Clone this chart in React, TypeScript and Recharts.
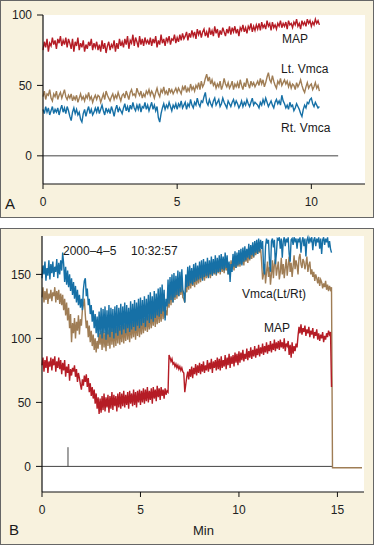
import React from 'react';
import { LineChart, Line, XAxis, YAxis, CartesianGrid, ReferenceLine } from 'recharts';

// Panel A – sampled every 0.05 min, 0 to 10.3 min (one row = one minute)
const A_STEP = 0.05;
const MAP_A = [
  75, 81, 77, 83, 74, 80, 78, 84, 79, 82, 76, 83, 80, 85, 78, 82, 79, 84, 77, 83,
  80, 76, 83, 74, 81, 78, 84, 75, 80, 77, 82, 74, 79, 76, 81, 78, 83, 75, 80, 77,
  81, 75, 79, 74, 82, 76, 80, 73, 78, 81, 75, 79, 77, 82, 74, 80, 76, 83, 78, 81,
  77, 83, 79, 85, 76, 82, 80, 86, 78, 84, 81, 77, 85, 79, 83, 78, 84, 80, 82, 79,
  84, 78, 83, 80, 85, 77, 82, 79, 86, 80, 83, 78, 84, 81, 85, 79, 83, 82, 86, 80,
  84, 81, 86, 82, 87, 83, 85, 88, 82, 87, 84, 89, 85, 88, 83, 90, 86, 89, 84, 88,
  90, 85, 88, 84, 91, 86, 89, 85, 92, 87, 90, 84, 89, 86, 91, 88, 85, 90, 87, 92,
  86, 91, 88, 92, 87, 90, 85, 91, 89, 93, 88, 91, 87, 92, 90, 94, 88, 92, 89, 93,
  90, 94, 89, 95, 91, 93, 90, 96, 92, 94, 89, 95, 91, 93, 90, 94, 92, 96, 91, 94,
  92, 95, 90, 96, 93, 94, 91, 95, 93, 97, 92, 94, 90, 96, 93, 95, 92, 97, 94, 96,
  92, 95, 93, 97, 94, 96, 93,
];
const LT_A = [
  42, 46, 40, 44, 43, 47, 41, 39, 44, 42, 46, 40, 43, 45, 41, 44, 47, 42, 40, 43,
  41, 44, 39, 42, 40, 43, 38, 41, 44, 40, 42, 39, 43, 41, 45, 40, 42, 38, 41, 43,
  40, 43, 42, 38, 41, 44, 40, 46, 43, 41, 39, 42, 44, 40, 43, 41, 45, 42, 39, 43,
  44, 41, 46, 43, 40, 45, 47, 43, 44, 42, 48, 45, 43, 46, 41, 44, 42, 46, 44, 47,
  43, 46, 44, 41, 45, 48, 44, 42, 47, 45, 49, 44, 46, 43, 48, 45, 47, 44, 46, 48,
  45, 48, 46, 44, 49, 47, 50, 45, 48, 46, 51, 47, 49, 46, 50, 48, 52, 47, 53, 49,
  51, 55, 58, 53, 56, 51, 54, 50, 52, 48, 51, 49, 53, 47, 50, 55, 51, 49, 52, 48,
  50, 53, 47, 51, 49, 52, 48, 54, 50, 47, 52, 49, 55, 51, 48, 53, 50, 52, 49, 51,
  53, 50, 55, 51, 54, 49, 52, 56, 59, 54, 52, 57, 53, 50, 48, 53, 51, 55, 50, 52,
  54, 51, 53, 49, 52, 48, 51, 50, 47, 52, 49, 51, 54, 50, 47, 45, 49, 52, 48, 50,
  51, 47, 49, 52, 48, 50, 46,
];
const RT_A = [
  33, 30, 35, 31, 34, 29, 32, 35, 30, 33, 31, 34, 29, 33, 36, 31, 34, 30, 35, 32,
  28, 25, 31, 34, 30, 33, 29, 31, 26, 24, 30, 33, 28, 32, 35, 30, 33, 29, 31, 34,
  31, 35, 30, 33, 36, 32, 29, 34, 31, 33, 30, 35, 32, 28, 33, 36, 31, 34, 32, 30,
  34, 37, 32, 35, 31, 36, 33, 38, 34, 32, 36, 33, 37, 31, 35, 34, 38, 33, 36, 32,
  35, 38, 33, 36, 32, 35, 27, 24, 30, 34, 37, 33, 36, 34, 38, 35, 32, 36, 34, 37,
  33, 37, 35, 39, 34, 36, 38, 33, 37, 35, 40, 36, 34, 38, 36, 41, 37, 35, 39, 38,
  42, 45, 38, 36, 40, 37, 35, 39, 41, 36, 38, 40, 35, 37, 41, 38, 36, 34, 39, 37,
  35, 38, 40, 36, 39, 37, 34, 36, 39, 35, 38, 36, 40, 37, 35, 38, 41, 36, 38, 37,
  36, 34, 38, 36, 40, 37, 41, 38, 35, 37, 39, 36, 34, 38, 40, 37, 39, 36, 43, 39,
  37, 34, 36, 33, 38, 35, 36, 32, 34, 37, 35, 33, 30, 28, 33, 36, 34, 38, 37, 40,
  41, 37, 35, 38, 36, 34, 35,
];

// Panel B – sampled every 0.05 min, 0 to 14.7 min (one row = one minute)
const B_STEP = 0.05;
const RT_B = [
  147, 157, 150, 160, 145, 155, 149, 161, 146, 158, 151, 160, 148, 156, 152, 162, 147, 159, 150, 161,
  153, 167, 158, 144, 156, 142, 153, 140, 150, 137, 147, 134, 144, 131, 141, 128, 138, 126, 134, 124,
  131, 122, 138, 145, 147, 133, 139, 126, 131, 119, 126, 113, 122, 108, 119, 104, 117, 101, 121, 103,
  124, 100, 123, 104, 125, 99, 122, 103, 126, 101, 124, 105, 123, 100, 125, 104, 126, 102, 124, 106,
  127, 103, 125, 107, 128, 104, 126, 108, 124, 105, 129, 107, 127, 109, 130, 106, 128, 110, 131, 108,
  132, 110, 130, 112, 133, 109, 131, 114, 134, 112, 136, 115, 133, 113, 137, 116, 135, 118, 139, 117,
  140, 119, 142, 121, 138, 114, 131, 125, 146, 127, 148, 130, 150, 128, 151, 132, 149, 134, 153, 133,
  152, 136, 154, 138, 135, 128, 150, 140, 156, 141, 157, 143, 155, 142, 158, 144, 159, 145, 157, 146,
  160, 147, 161, 145, 162, 148, 160, 149, 163, 147, 161, 150, 164, 149, 162, 151, 165, 150, 163, 152,
  165, 152, 166, 154, 164, 153, 167, 155, 165, 150, 160, 144, 158, 152, 166, 156, 168, 155, 167, 157,
  169, 158, 170, 157, 171, 160, 172, 161, 170, 163, 174, 162, 173, 165, 175, 164, 176, 167, 177, 166,
  178, 168, 177, 170, 176, 155, 150, 172, 178, 174, 177, 160, 152, 176, 178, 171, 177, 158, 166, 178,
  177, 179, 170, 178, 163, 176, 179, 172, 178, 175, 179, 166, 160, 177, 178, 173, 179, 176, 178, 170,
  178, 175, 179, 167, 176, 179, 172, 178, 164, 177, 179, 174, 178, 176, 179, 169, 177, 179, 172, 178,
  175, 179, 170, 178, 166, 177, 179, 173, 178, 175, 179, 171, 176, 170, 167,
];
const LT_B = [
  132, 140, 128, 137, 130, 139, 127, 135, 131, 138, 129, 136, 133, 140, 128, 137, 130, 138, 127, 135,
  126, 134, 122, 131, 118, 128, 114, 124, 108, 119, 97, 112, 104, 116, 100, 113, 106, 118, 103, 115,
  110, 122, 126, 131, 118, 108, 114, 101, 110, 97, 106, 94, 103, 91, 100, 89, 98, 92, 104, 95,
  106, 91, 108, 93, 105, 90, 109, 94, 107, 92, 110, 95, 108, 93, 111, 94, 109, 96, 112, 95,
  110, 97, 113, 96, 111, 98, 114, 99, 112, 97, 115, 100, 113, 101, 116, 99, 114, 102, 117, 101,
  115, 103, 118, 104, 116, 106, 120, 105, 118, 107, 122, 108, 120, 110, 124, 109, 122, 111, 126, 112,
  124, 113, 128, 115, 126, 116, 122, 118, 136, 124, 140, 126, 142, 128, 141, 130, 144, 131, 143, 133,
  146, 134, 145, 132, 131, 128, 141, 136, 148, 138, 150, 139, 149, 141, 151, 140, 152, 142, 151, 143,
  154, 144, 153, 146, 155, 145, 156, 147, 154, 148, 157, 147, 158, 149, 156, 150, 159, 149, 158, 151,
  160, 150, 161, 152, 159, 151, 162, 153, 160, 150, 158, 152, 161, 154, 163, 153, 164, 155, 162, 156,
  165, 156, 164, 158, 166, 157, 167, 160, 166, 159, 168, 161, 169, 162, 170, 163, 171, 165, 170, 166,
  172, 167, 170, 160, 146, 150, 158, 143, 152, 160, 148, 156, 142, 150, 161, 147, 158, 162, 149, 155,
  160, 146, 152, 163, 150, 158, 147, 155, 162, 149, 157, 164, 152, 159, 148, 156, 165, 154, 161, 157,
  150, 163, 166, 158, 155, 162, 160, 154, 158, 164, 152, 157, 160, 150, 154, 148, 152, 145, 150, 147,
  143, 148, 141, 146, 144, 139, 143, 140, 145, 138, 142, 137, 141, 138, 140,
];
const MAP_B = [
  79, 85, 74, 83, 77, 86, 73, 82, 78, 85, 75, 84, 79, 86, 74, 82, 77, 85, 76, 83,
  72, 81, 75, 83, 70, 78, 73, 80, 67, 76, 71, 77, 74, 79, 70, 76, 66, 73, 69, 64,
  60, 68, 63, 71, 66, 72, 62, 69, 58, 65, 55, 62, 53, 60, 49, 57, 45, 54, 41, 53,
  42, 55, 44, 57, 43, 54, 46, 56, 42, 55, 45, 58, 44, 56, 47, 55, 43, 57, 46, 58,
  45, 57, 47, 59, 46, 56, 48, 58, 45, 59, 49, 57, 47, 60, 48, 58, 46, 59, 50, 60,
  48, 59, 50, 61, 49, 60, 51, 62, 50, 59, 52, 61, 49, 62, 53, 60, 51, 63, 54, 61,
  52, 62, 55, 60, 53, 61, 56, 59, 58, 87, 85, 82, 84, 80, 81, 78, 80, 77, 79, 76,
  78, 75, 77, 74, 73, 58, 64, 70, 74, 68, 76, 70, 78, 69, 77, 72, 80, 71, 79, 73,
  81, 72, 80, 74, 82, 73, 79, 75, 83, 74, 81, 76, 84, 73, 82, 77, 83, 75, 85, 76,
  84, 75, 86, 77, 83, 78, 87, 76, 85, 79, 88, 77, 86, 80, 87, 78, 89, 81, 88, 79,
  90, 81, 89, 83, 91, 82, 88, 84, 92, 83, 90, 85, 93, 84, 91, 86, 94, 85, 92, 87,
  95, 86, 93, 88, 96, 87, 94, 89, 97, 88, 95, 90, 98, 89, 96, 91, 99, 90, 97, 92,
  98, 91, 99, 93, 97, 92, 100, 90, 96, 94, 98, 87, 95, 85, 97, 88, 94, 90, 96, 93,
  102, 109, 104, 111, 103, 108, 105, 110, 102, 107, 104, 109, 101, 106, 103, 108, 100, 105, 102, 107,
  99, 104, 98, 103, 100, 105, 97, 102, 99, 104, 101, 106, 103, 105, 62,
];
// Lt trace after the signal drops out
const LT_TAIL_T = [14.75, 16.25];
const LT_TAIL = [-1, -1];

const A_X_TICKS = [0, 5, 10];
const A_Y_TICKS = [0, 50, 100];
const B_X_TICKS = [0, 5, 10, 15];
const B_Y_TICKS = [0, 50, 100, 150];

const ZERO_END_A = 11;
const ZERO_END_B = 14.75;
const MARK_T = 1.32;
const MARK_H = 15;

const RED = '#b51c25';
const BROWN = '#9f7d55';
const BLUE = '#1670a6';
const CREAM = '#f8f2de';
const FONT = "'Liberation Sans', Arial, sans-serif";
const TRACE_W = 1.4;

const dataA = MAP_A.map((map, i) => ({
  t: Math.round(i * A_STEP * 100) / 100,
  map,
  lt: LT_A[i],
  rt: RT_A[i],
}));

const dataB: any[] = MAP_B.map((map, i) => ({
  t: Math.round(i * B_STEP * 100) / 100,
  map,
  lt: LT_B[i],
  rt: RT_B[i],
}));
LT_TAIL_T.forEach((t, i) => dataB.push({ t, lt: LT_TAIL[i] }));

const tickStyle = { fill: '#222', fontSize: 12, fontFamily: FONT };

const Note = ({ x, y, children, size = 12 }: { x: number; y: number; children: React.ReactNode; size?: number }) => (
  <div
    style={{
      position: 'absolute', left: x, top: y, transform: 'translateY(-50%)',
      fontFamily: FONT, fontSize: size, color: '#1a1a1a', whiteSpace: 'nowrap', lineHeight: 1,
    }}
  >
    {children}
  </div>
);

const Frame = ({ top, height }: { top: number; height: number }) => (
  <div
    style={{
      position: 'absolute', left: 0, top, width: 374, height,
      background: CREAM, border: '1px solid #666', boxSizing: 'border-box',
    }}
  />
);

export default function App() {
  return (
    <div style={{ position: 'absolute', left: 0, top: 0, width: 375, height: 545, background: '#fff', overflow: 'hidden' }}>
      <Frame top={0} height={218} />
      <Frame top={228} height={317} />

      <div style={{ position: 'absolute', left: 0, top: 0 }}>
        <LineChart width={375} height={217} data={dataA} margin={{ top: 15, right: 10, bottom: 3, left: 0 }}>
          <CartesianGrid fill="#fff" stroke="none" horizontal={false} vertical={false} />
          <XAxis
            type="number" dataKey="t" domain={[0, 12]} ticks={A_X_TICKS} height={30}
            tick={tickStyle} tickSize={5} tickMargin={8}
            axisLine={{ stroke: '#111', strokeWidth: 1.2 }} tickLine={{ stroke: '#111' }}
          />
          <YAxis
            type="number" domain={[-20, 100]} ticks={A_Y_TICKS} width={43}
            tick={tickStyle} tickSize={6} tickMargin={5}
            axisLine={{ stroke: '#111', strokeWidth: 1.2 }} tickLine={{ stroke: '#111' }}
          />
          <ReferenceLine segment={[{ x: 0, y: 0 }, { x: ZERO_END_A, y: 0 }]} stroke="#444" />
          <Line dataKey="map" stroke={RED} strokeWidth={TRACE_W} dot={false} isAnimationActive={false} />
          <Line dataKey="lt" stroke={BROWN} strokeWidth={TRACE_W} dot={false} isAnimationActive={false} />
          <Line dataKey="rt" stroke={BLUE} strokeWidth={TRACE_W} dot={false} isAnimationActive={false} />
        </LineChart>
      </div>

      <div style={{ position: 'absolute', left: 0, top: 228 }}>
        <LineChart width={375} height={317} data={dataB} margin={{ top: 8, right: 11, bottom: 3, left: 0 }}>
          <CartesianGrid fill="#fff" stroke="none" horizontal={false} vertical={false} />
          <XAxis
            type="number" dataKey="t" domain={[0, 16.35]} ticks={B_X_TICKS} height={50}
            tick={tickStyle} tickSize={5} tickMargin={8}
            axisLine={{ stroke: '#111', strokeWidth: 1.2 }} tickLine={{ stroke: '#111' }}
          />
          <YAxis
            type="number" domain={[-20, 180]} ticks={B_Y_TICKS} width={42}
            tick={tickStyle} tickSize={6} tickMargin={5}
            axisLine={{ stroke: '#111', strokeWidth: 1.2 }} tickLine={{ stroke: '#111' }}
          />
          <ReferenceLine segment={[{ x: 0, y: 0 }, { x: ZERO_END_B, y: 0 }]} stroke="#444" />
          <ReferenceLine segment={[{ x: MARK_T, y: 0 }, { x: MARK_T, y: MARK_H }]} stroke="#444" />
          <Line dataKey="lt" stroke={BROWN} strokeWidth={TRACE_W} dot={false} isAnimationActive={false} />
          <Line dataKey="rt" stroke={BLUE} strokeWidth={TRACE_W} dot={false} isAnimationActive={false} />
          <Line dataKey="map" stroke={RED} strokeWidth={TRACE_W} dot={false} isAnimationActive={false} />
        </LineChart>
      </div>

      <Note x={282} y={39}>MAP</Note>
      <Note x={281} y={69}>Lt. Vmca</Note>
      <Note x={281} y={128}>Rt. Vmca</Note>
      <Note x={5} y={203} size={15}>A</Note>

      <Note x={63} y={251}>2000–4–5</Note>
      <Note x={131} y={251}>10:32:57</Note>
      <Note x={242} y={294}>Vmca(Lt/Rt)</Note>
      <Note x={264} y={328}>MAP</Note>
      <Note x={9} y={529} size={15}>B</Note>
      <Note x={193} y={530} size={13}>Min</Note>
    </div>
  );
}
